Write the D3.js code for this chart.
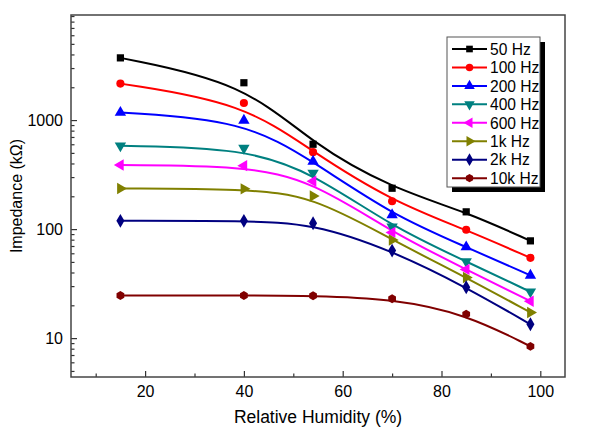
<!DOCTYPE html>
<html><head><meta charset="utf-8">
<script src="https://cdn.jsdelivr.net/npm/d3@7"></script>
<style>body{margin:0;background:#fff}svg{display:block}text{font-family:"Liberation Sans",Arial,sans-serif}</style>
</head><body><svg id="c" width="600" height="435"></svg>
<script>
const humidity = [15, 40, 54, 70, 85, 98];
const seriesNames = ["50 Hz","100 Hz","200 Hz","400 Hz","600 Hz","1k Hz","2k Hz","10k Hz"];
const z50   = [3720, 2200, 600, 237, 144, 78];
const z100  = [2160, 1436, 508, 180, 98.6, 54.5];
const z200  = [1175, 994, 418, 135, 68.5, 37.6];
const z400  = [581, 553, 327, 105, 50.5, 26.6];
const z600  = [387, 382, 275, 93.3, 42.7, 21.8];
const z1k   = [236, 234, 201, 79.4, 36, 17.2];
const z2k   = [119, 119, 113, 63.5, 29.3, 13.4];
const z10k  = [24.6, 24.6, 24.5, 23, 16.6, 8.4];
const xTicks = [20, 40, 60, 80, 100];
const xMinor = [10, 30, 50, 70, 90];
const yTicks = [10, 100, 1000];

const seriesValues = [z50, z100, z200, z400, z600, z1k, z2k, z10k];
const colors = ["#000000","#ff0000","#0000ff","#008080","#ff00ff","#808000","#000080","#800000"];

const L = 71, R = 565, T = 15, B = 377;
const svg = d3.select("#c");
const x = d3.scaleLinear().domain([5, 105]).range([L, R]);
const y = d3.scaleLog().domain([4.4, 9200]).range([B, T]);

const yMinor = [];
[1, 10, 100, 1000].forEach(d => { for (let k = 1; k <= 9; k++) { const v = d * k; if (v >= 4.4 && v <= 9200 && !yTicks.includes(v)) yMinor.push(v); } });

// hexagon symbol
const hexagon = { draw(ctx, size) { const r = Math.sqrt(size / 2.598); for (let i = 0; i < 6; i++) { const a = Math.PI / 6 + i * Math.PI / 3; const px = r * Math.cos(a), py = r * Math.sin(a); if (i === 0) ctx.moveTo(px, py); else ctx.lineTo(px, py); } ctx.closePath(); } };
const markers = [
  {type: d3.symbolSquare, size: 52, rot: 0},
  {type: d3.symbolCircle, size: 52, rot: 0},
  {type: d3.symbolTriangle, size: 56, rot: 0},
  {type: d3.symbolTriangle, size: 56, rot: 180},
  {type: d3.symbolTriangle, size: 56, rot: -90},
  {type: d3.symbolTriangle, size: 56, rot: 90},
  {type: d3.symbolDiamond, size: 56, rot: 0},
  {type: hexagon, size: 52, rot: 0}
];

// axes
const gx = svg.append("g").attr("transform", `translate(0,${B})`);
gx.call(d3.axisBottom(x).tickValues(xTicks).tickSizeInner(-6).tickSizeOuter(0).tickPadding(9).tickFormat(d3.format("d")));
const gxm = svg.append("g").attr("transform", `translate(0,${B})`);
gxm.call(d3.axisBottom(x).tickValues(xMinor).tickSizeInner(-3.5).tickSizeOuter(0).tickFormat(""));
const gy = svg.append("g").attr("transform", `translate(${L},0)`);
gy.call(d3.axisLeft(y).tickValues(yTicks).tickSizeInner(-6).tickSizeOuter(0).tickPadding(8).tickFormat(d3.format("d")));
const gym = svg.append("g").attr("transform", `translate(${L},0)`);
gym.call(d3.axisLeft(y).tickValues(yMinor).tickSizeInner(-3.5).tickSizeOuter(0).tickFormat(""));
svg.selectAll(".domain").remove();
svg.selectAll(".tick line").attr("stroke", "#333").attr("stroke-width", 1.2);
svg.selectAll(".tick text").attr("fill", "#000").style("font-size", "16px").style("font-family", "Liberation Sans, Arial, sans-serif");

// frame
svg.append("rect").attr("x", L).attr("y", T).attr("width", R - L).attr("height", B - T)
  .attr("fill", "none").attr("stroke", "#444").attr("stroke-width", 1.5);

// titles
svg.append("text").attr("x", (L + R) / 2).attr("y", 423).attr("text-anchor", "middle")
  .style("font-size", "17.5px").text("Relative Humidity (%)");
svg.append("text").attr("transform", `translate(22,${(T + B) / 2}) rotate(-90)`).attr("text-anchor", "middle")
  .style("font-size", "16px").text("Impedance (kΩ)");

// lines and markers
const line = d3.line().x((d, i) => x(humidity[i])).y(d => y(d)).curve(d3.curveBasis);
seriesValues.forEach((vals, si) => {
  svg.append("path").attr("d", line(vals)).attr("fill", "none").attr("stroke", colors[si]).attr("stroke-width", 2);
});
seriesValues.forEach((vals, si) => {
  const m = markers[si];
  const sym = d3.symbol().type(m.type).size(m.size);
  svg.append("g").selectAll("path").data(vals).join("path")
    .attr("transform", (d, i) => `translate(${x(humidity[i])},${y(d)}) rotate(${m.rot})`)
    .attr("d", sym).attr("fill", colors[si]);
});

// legend
const lx = 447, ly = 37, lw = 93, lh = 150;
svg.append("rect").attr("x", lx + 5).attr("y", ly + 5).attr("width", lw).attr("height", lh).attr("fill", "#000");
svg.append("rect").attr("x", lx).attr("y", ly).attr("width", lw).attr("height", lh).attr("fill", "#fff").attr("stroke", "#555").attr("stroke-width", 1);
seriesNames.forEach((name, si) => {
  const ry = 49 + si * 18.45;
  svg.append("line").attr("x1", 452).attr("x2", 487).attr("y1", ry).attr("y2", ry).attr("stroke", colors[si]).attr("stroke-width", 2);
  const m = markers[si];
  svg.append("path").attr("transform", `translate(469.5,${ry}) rotate(${m.rot})`).attr("d", d3.symbol().type(m.type).size(m.size * 0.85)()).attr("fill", colors[si]);
  svg.append("text").attr("x", 490).attr("y", ry + 5.7).style("font-size", "15.6px").text(name);
});
</script></body></html>
